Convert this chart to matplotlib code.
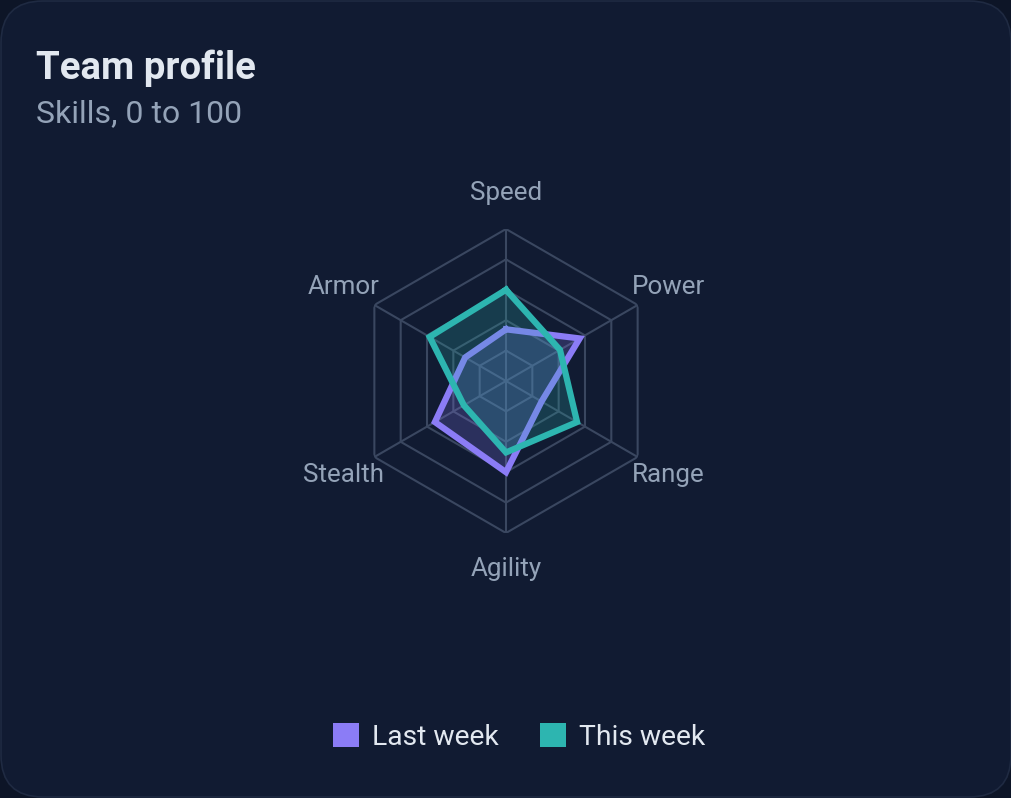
import numpy as np
import matplotlib.pyplot as plt
from matplotlib.patches import FancyBboxPatch, Patch

# data
skills = ["Speed", "Power", "Range", "Agility", "Stealth", "Armor"]
last_week = [34, 56, 27, 60, 54, 31]
this_week = [60, 41, 54, 47, 32, 58]
series_names = ["Last week", "This week"]
series_colors = ["#8b7cf6", "#2db5b0"]

W, H = 1012, 798
plt.rcParams["font.family"] = ["Roboto", "DejaVu Sans"]

fig = plt.figure(figsize=(W / 100, H / 100), dpi=100, facecolor="#0d1527")

# card background
card = FancyBboxPatch((1, 1), W - 2, H - 2, boxstyle="round,pad=0,rounding_size=42",
                      transform=None, facecolor="#111b32", edgecolor="#1f2a42",
                      linewidth=1.2, zorder=-10)
fig.patches.append(card)

fig.text(36 / W, 1 - 79 / H, "Team profile", fontsize=27.6, fontweight="bold",
         color="#e2e8f0", va="baseline", ha="left")
fig.text(36 / W, 1 - 122 / H, "Skills, 0 to 100", fontsize=23,
         color="#94a3b8", va="baseline", ha="left")

# radar axes, centre at (506, 381) px, radius 152 px for 100
cx, cy, R = 506, 381, 152
ax = fig.add_axes([(cx - R) / W, (H - cy - R) / H, 2 * R / W, 2 * R / H],
                  projection="polar")
ax.set_theta_offset(np.pi / 2)
ax.set_theta_direction(-1)
ax.set_ylim(0, 100)
ax.set_facecolor("none")
ax.spines["polar"].set_visible(False)
ax.grid(False)
ax.set_xticks([])
ax.set_yticks([])

n = len(skills)
angles = np.arange(n) * 2 * np.pi / n
closed = np.append(angles, angles[0])

grid_col = "#3a4760"
for lvl in [20, 40, 60, 80, 100]:
    ax.plot(closed, [lvl] * (n + 1), color=grid_col, lw=1.5, zorder=1)
for a in angles:
    ax.plot([a, a], [0, 100], color=grid_col, lw=1.5, zorder=1)

for i, (vals, col) in enumerate(zip([last_week, this_week], series_colors)):
    v = np.append(vals, vals[0])
    ax.fill(closed, v, color=col, alpha=0.22, lw=0, zorder=2 + 2 * i)
    ax.plot(closed, v, color=col, lw=4.5, zorder=3 + 2 * i, solid_joinstyle="miter")

for a, lab in zip(angles, skills):
    ax.text(a, 123.5, lab, ha="center", va="center", fontsize=18.7, color="#94a3b8")

handles = [Patch(facecolor=c, edgecolor="none") for c in series_colors]
fig.legend(handles, series_names, loc="center", ncol=2, frameon=False,
           bbox_to_anchor=(519 / W, 1 - 737 / H), fontsize=20.3,
           labelcolor="#e2e8f0", handlelength=0.93, handleheight=0.93,
           handletextpad=0.47, columnspacing=1.45)

fig.savefig("out.png", dpi=100, facecolor=fig.get_facecolor())
